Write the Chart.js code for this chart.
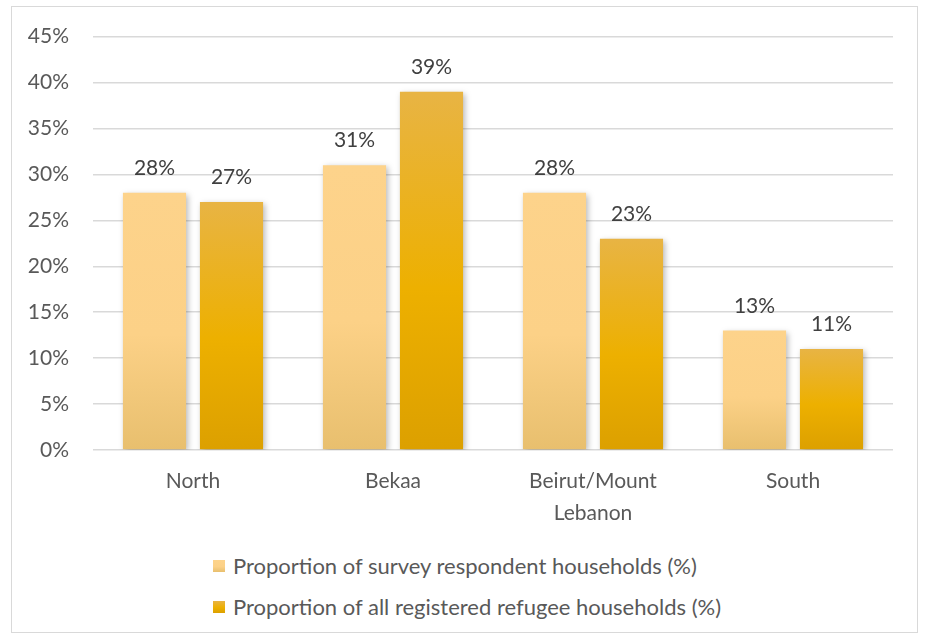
<!DOCTYPE html>
<html>
<head>
<meta charset="utf-8">
<script src="https://cdn.jsdelivr.net/npm/chart.js@4.4.1/dist/chart.umd.min.js"></script>
<style>
  body { margin: 0; background: #fff; }
  #frame {
    position: absolute; left: 11px; top: 6px; width: 905px; height: 625px;
    border: 1px solid #d9d9d9;
  }
  #wrap { position: absolute; left: 0; top: 0; width: 927px; height: 540px; }
  #legend {
    position: absolute; left: 213px; top: 545px;
    font-family: Lato, sans-serif; font-size: 22px; color: #595959;
  }
  #legend .item { display: flex; align-items: center; height: 41px; }
  #legend .box { width: 12px; height: 12px; margin-right: 8px; }
</style>
</head>
<body>
<div id="frame"></div>
<div id="wrap"><canvas id="myChart" width="927" height="540"></canvas></div>
<div id="legend"></div>
<script>
const regions = [["North"], ["Bekaa"], ["Beirut/Mount", "Lebanon"], ["South"]];
const surveyShare = [28, 31, 28, 13];
const registeredShare = [27, 39, 23, 11];
const yTicks = [0, 5, 10, 15, 20, 25, 30, 35, 40, 45];

// gradient stops, top of bar -> bottom
const lightStops = [[0, "#fdd38b"], [0.55, "#fcd187"], [1, "#e8bf6e"]];
const darkStops = [[0, "#e8b444"], [0.55, "#edb000"], [1, "#dca000"]];

function barGradient(context, stops) {
  const chart = context.chart;
  const y = chart.scales.y;
  if (!y || context.parsed === undefined || !chart.chartArea) return stops[1][1];
  const top = y.getPixelForValue(context.parsed.y);
  const base = y.getPixelForValue(0);
  const g = chart.ctx.createLinearGradient(0, top, 0, base);
  stops.forEach(([p, c]) => g.addColorStop(p, c));
  return g;
}

const barShadow = {
  id: "barShadow",
  beforeDatasetsDraw(chart) {
    const ctx = chart.ctx;
    ctx.save();
    ctx.shadowColor = "rgba(0,0,0,0.28)";
    ctx.shadowBlur = 6;
    ctx.shadowOffsetX = 2;
    ctx.shadowOffsetY = 2;
  },
  afterDatasetsDraw(chart) {
    chart.ctx.restore();
  },
};

const valueLabels = {
  id: "valueLabels",
  afterDraw(chart) {
    const ctx = chart.ctx;
    ctx.save();
    ctx.font = "21px Lato, sans-serif";
    ctx.fillStyle = "#404040";
    ctx.textAlign = "center";
    ctx.textBaseline = "alphabetic";
    chart.data.datasets.forEach((ds, i) => {
      chart.getDatasetMeta(i).data.forEach((bar, j) => {
        ctx.fillText(ds.data[j] + "%", bar.x, bar.y - 18);
      });
    });
    ctx.restore();
  },
};

const ctx = document.getElementById("myChart").getContext("2d");

const myChart = new Chart(ctx, {
  type: "bar",
  data: {
    labels: regions,
    datasets: [
      {
        label: "Proportion of survey respondent households (%)",
        data: surveyShare,
        backgroundColor: (c) => barGradient(c, lightStops),
        legendStops: lightStops,
      },
      {
        label: "Proportion of all registered refugee households (%)",
        data: registeredShare,
        backgroundColor: (c) => barGradient(c, darkStops),
        legendStops: darkStops,
      },
    ],
  },
  plugins: [barShadow, valueLabels],
  options: {
    responsive: false,
    animation: false,
    categoryPercentage: 0.77,
    barPercentage: 0.82,
    layout: { padding: { left: 20, right: 34, top: 34, bottom: 10 } },
    scales: {
      x: {
        grid: { display: false },
        border: { display: false },
        ticks: {
          color: "#595959",
          padding: 7,
          font: { family: "Lato, sans-serif", size: 21, lineHeight: "32px" },
        },
        afterFit: (scale) => { scale.height = 80; },
      },
      y: {
        min: 0,
        max: 45,
        afterBuildTicks: (scale) => {
          scale.ticks = yTicks.map((v) => ({ value: v }));
        },
        grid: { color: "#d9d9d9", lineWidth: 1.5, drawTicks: false },
        border: { display: false },
        ticks: {
          color: "#595959",
          padding: 24,
          font: { family: "Lato, sans-serif", size: 21 },
          callback: (v) => v + "%",
        },
        afterFit: (scale) => { scale.width = 73; },
      },
    },
    plugins: {
      legend: { display: false },
      tooltip: { enabled: false },
    },
  },
});

// legend stacked under the chart, one row per dataset
const legendEl = document.getElementById("legend");
myChart.data.datasets.forEach((ds) => {
  const row = document.createElement("div");
  row.className = "item";
  const box = document.createElement("span");
  box.className = "box";
  box.style.background =
    "linear-gradient(" + ds.legendStops.map(([p, c]) => c + " " + p * 100 + "%").join(", ") + ")";
  const text = document.createElement("span");
  text.textContent = ds.label;
  row.appendChild(box);
  row.appendChild(text);
  legendEl.appendChild(row);
});
</script>
</body>
</html>
